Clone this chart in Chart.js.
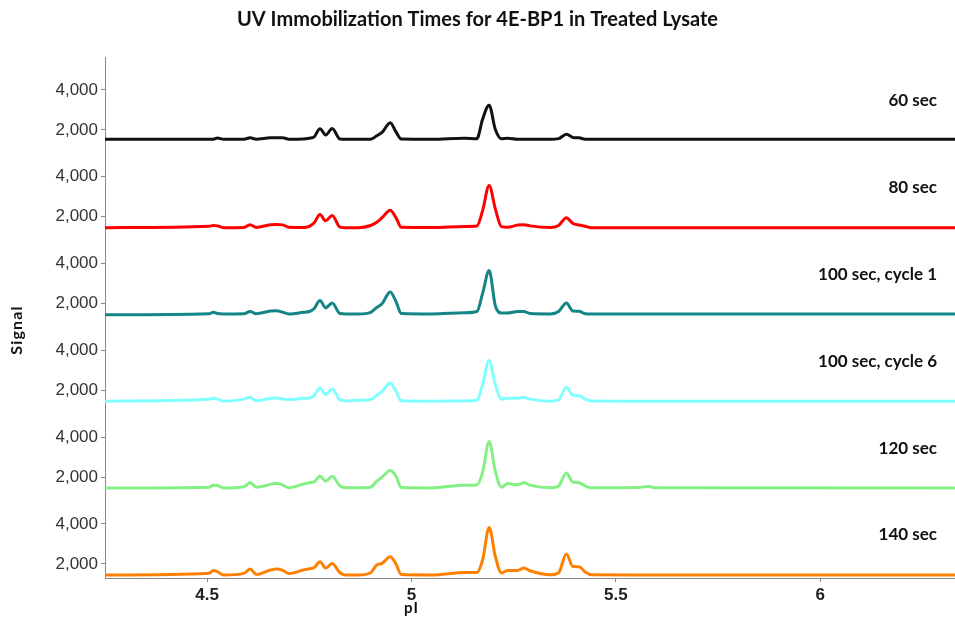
<!DOCTYPE html>
<html>
<head>
<meta charset="utf-8">
<title>UV Immobilization Times for 4E-BP1 in Treated Lysate</title>
<script src="https://cdn.jsdelivr.net/npm/chart.js@4.4.1/dist/chart.umd.min.js"></script>
<style>
  html, body { margin: 0; padding: 0; background: #fff; }
  #wrap { width: 955px; height: 619px; }
</style>
</head>
<body>
<div id="wrap"><canvas id="uvChart" width="955" height="619"></canvas></div>
<script>
const pI = [
  4.25, 4.505, 4.515, 4.525, 4.54, 4.59, 4.605, 4.62, 4.655, 4.67,
  4.685, 4.70, 4.735, 4.75, 4.762, 4.776, 4.79, 4.806, 4.825, 4.84,
  4.87, 4.90, 4.915, 4.928, 4.948, 4.962, 4.975, 5.05, 5.13, 5.16,
  5.174, 5.19, 5.205, 5.22, 5.235, 5.26, 5.275, 5.29, 5.34, 5.36,
  5.379, 5.395, 5.41, 5.425, 5.44, 5.56, 5.58, 5.60, 6.33
];

const sec60 = [
  1530, 1530, 1530, 1590, 1530, 1530, 1600, 1530, 1600, 1600,
  1600, 1530, 1540, 1580, 1650, 2060, 1740, 2070, 1540, 1530,
  1530, 1530, 1700, 1870, 2360, 1900, 1540, 1530, 1580, 1560,
  2530, 3230, 2030, 1560, 1580, 1530, 1530, 1530, 1530, 1560,
  1780, 1620, 1600, 1530, 1530, 1530, 1530, 1530, 1530
];
const sec80 = [
  1450, 1520, 1560, 1540, 1450, 1460, 1600, 1460, 1600, 1610,
  1590, 1470, 1460, 1520, 1700, 2110, 1790, 2060, 1480, 1450,
  1450, 1560, 1720, 1950, 2320, 1950, 1470, 1460, 1510, 1530,
  2300, 3560, 2400, 1500, 1470, 1580, 1600, 1540, 1460, 1560,
  1950, 1660, 1580, 1520, 1450, 1450, 1450, 1450, 1450
];
const sec100c1 = [
  1440, 1490, 1560, 1500, 1480, 1490, 1600, 1490, 1620, 1640,
  1560, 1480, 1560, 1600, 1750, 2150, 1790, 2020, 1500, 1480,
  1480, 1560, 1800, 1990, 2580, 2100, 1500, 1480, 1540, 1600,
  2500, 3650, 1900, 1520, 1520, 1600, 1600, 1500, 1480, 1600,
  2030, 1620, 1610, 1490, 1480, 1480, 1480, 1480, 1480
];
const sec100c6 = [
  1460, 1550, 1620, 1560, 1460, 1560, 1650, 1480, 1600, 1620,
  1560, 1540, 1600, 1620, 1750, 2120, 1790, 2070, 1520, 1470,
  1500, 1540, 1750, 1950, 2370, 1950, 1480, 1460, 1470, 1500,
  2300, 3490, 2300, 1560, 1600, 1600, 1650, 1560, 1460, 1520,
  2150, 1750, 1740, 1560, 1470, 1460, 1460, 1460, 1460
];
const sec120 = [
  1460, 1500, 1600, 1580, 1460, 1520, 1730, 1500, 1640, 1700,
  1600, 1470, 1650, 1720, 1760, 2060, 1800, 2040, 1560, 1470,
  1470, 1500, 1800, 2000, 2330, 2050, 1480, 1460, 1600, 1610,
  2250, 3780, 2300, 1500, 1680, 1620, 1720, 1600, 1470, 1560,
  2210, 1750, 1720, 1560, 1470, 1500, 1530, 1470, 1460
];
const sec140 = [
  1450, 1540, 1670, 1620, 1450, 1530, 1750, 1480, 1700, 1750,
  1680, 1520, 1700, 1760, 1820, 2110, 1800, 2030, 1560, 1450,
  1450, 1560, 1950, 2030, 2360, 2000, 1470, 1450, 1580, 1580,
  2200, 3830, 2400, 1550, 1670, 1680, 1800, 1660, 1460, 1560,
  2500, 1870, 1860, 1600, 1460, 1450, 1450, 1450, 1450
];

const seriesNames = ['60 sec', '80 sec', '100 sec, cycle 1', '100 sec, cycle 6', '120 sec', '140 sec'];
const seriesValues = [sec60, sec80, sec100c1, sec100c6, sec120, sec140];
const yTicks = [2000, 4000];
const xTicks = [4.5, 5, 5.5, 6];

const colors = ['#111111', '#ff0000', '#148585', '#80ffff', '#84f084', '#ff8000'];
const panelMin = 1300;
const panelMax = 5640;
const labelLevel = 3450;

const datasets = seriesValues.map((vals, i) => ({
  label: seriesNames[i],
  data: vals.map((v, j) => ({ x: pI[j], y: v })),
  yAxisID: 'y' + i,
  borderColor: colors[i],
  borderWidth: 3,
  pointRadius: 0,
  fill: false,
  cubicInterpolationMode: 'monotone'
}));

const scales = {
  x: {
    type: 'linear',
    min: 4.25,
    max: 6.33,
    afterBuildTicks: (s) => { s.ticks = xTicks.map((v) => ({ value: v })); },
    afterFit: (s) => { s.height = 41; },
    ticks: {
      autoSkip: false,
      maxRotation: 0,
      padding: 3,
      color: '#222',
      font: { family: 'Liberation Sans', size: 17, weight: 'bold' },
      callback: (v) => String(v)
    },
    grid: { drawOnChartArea: false, tickLength: 4, color: '#888' },
    border: { color: '#888' }
  }
};

// later-defined stacked axes sit higher, so build from the bottom panel up
for (let i = seriesValues.length - 1; i >= 0; i--) {
  scales['y' + i] = {
    type: 'linear',
    position: 'left',
    stack: 'panels',
    stackWeight: 1,
    min: panelMin,
    max: panelMax,
    afterBuildTicks: (s) => { s.ticks = yTicks.map((v) => ({ value: v })); },
    afterFit: (s) => { s.width = 105; },
    ticks: {
      padding: 3,
      color: '#333',
      font: { family: 'Liberation Sans', size: 17 },
      callback: (v) => Number(v).toLocaleString('en-US')
    },
    grid: { drawOnChartArea: false, tickLength: 4, color: '#888' },
    border: { color: '#888' }
  };
}

const panelLabels = {
  id: 'panelLabels',
  afterDatasetsDraw(chart) {
    const { ctx, chartArea } = chart;
    ctx.save();
    ctx.fillStyle = '#111';
    ctx.textBaseline = 'middle';
    ctx.font = 'bold 17px Lato';
    ctx.textAlign = 'right';
    chart.data.datasets.forEach((ds) => {
      const y = chart.scales[ds.yAxisID].getPixelForValue(labelLevel);
      ctx.fillText(ds.label, chartArea.right - 18, y);
    });
    ctx.font = 'bold 15px Lato';
    ctx.textAlign = 'center';
    ctx.letterSpacing = '1px';
    ctx.fillText('pI', chart.scales.x.getPixelForValue(5), 608);
    ctx.translate(17, 330);
    ctx.rotate(-Math.PI / 2);
    ctx.letterSpacing = '1.2px';
    ctx.font = 'bold 16px Lato';
    ctx.fillText('Signal', 0, 0);
    ctx.restore();
  }
};

new Chart(document.getElementById('uvChart'), {
  type: 'line',
  data: { datasets },
  options: {
    responsive: false,
    animation: false,
    layout: { padding: { left: 0, right: 0, top: 0, bottom: 0 } },
    plugins: {
      legend: { display: false },
      tooltip: { enabled: false },
      title: {
        display: true,
        text: 'UV Immobilization Times for 4E-BP1 in Treated Lysate',
        color: '#111',
        font: { family: 'Lato', size: 20, weight: 'bold' },
        padding: { top: 8, bottom: 25 }
      }
    },
    scales
  },
  plugins: [panelLabels]
});
</script>
</body>
</html>
